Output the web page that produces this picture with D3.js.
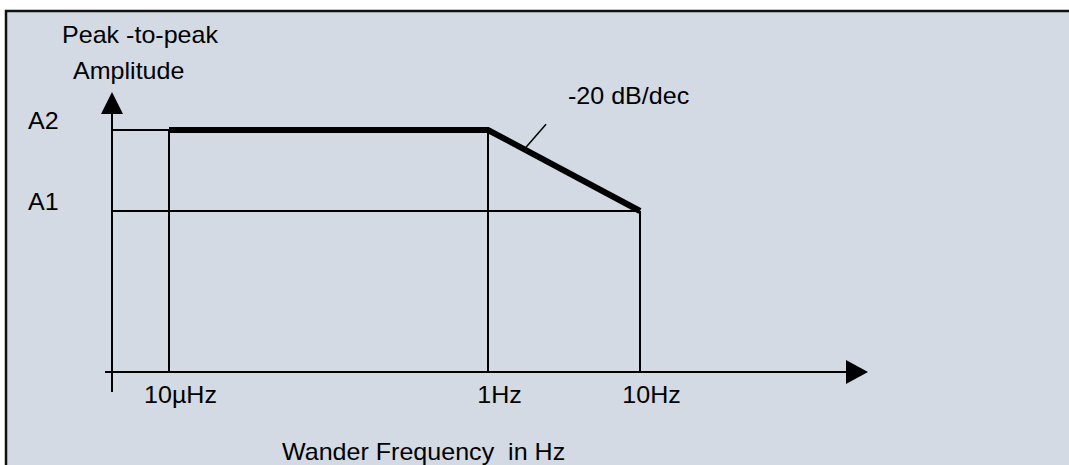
<!DOCTYPE html>
<html>
<head>
<meta charset="utf-8">
<script src="https://cdn.jsdelivr.net/npm/d3@7"></script>
<style>
  body { margin: 0; background: #fff; }
  svg { display: block; font-family: "Liberation Sans", Arial, sans-serif; }
</style>
</head>
<body>
<svg id="chart"></svg>
<script>
// Wander tolerance mask: flat at A2, then -20 dB/dec down to A1
const freqs = [1e-5, 1, 10]
const amps = [10, 10, 1]
const freqLabels = ['10µHz', '1Hz', '10Hz']
const ampLevels = [1, 10]
const ampLabels = ['A1', 'A2']
const slopeLabel = '-20 dB/dec'
const yTitle = ['Peak -to-peak', 'Amplitude']
const xTitle = 'Wander Frequency  in Hz'

;(function() {
  const W = 1069
  const H = 465
  const fontSize = 23
  const stretch = 1.09
  const axisX = 112
  const axisY = 372
  const bg = '#d3dae4'

  const svg = d3.select('#chart')
    .attr('width', W)
    .attr('height', H)

  // frame
  svg.append('rect')
    .attr('x', 6)
    .attr('y', 11)
    .attr('width', 1100)
    .attr('height', 500)
    .attr('fill', bg)
    .attr('stroke', '#111')
    .attr('stroke-width', 2.5)

  // schematic axes: log on both, decades not to scale on x
  const x = d3.scaleLog()
    .domain(freqs)
    .range([169, 488, 640])

  const y = d3.scaleLog()
    .domain(d3.extent(ampLevels))
    .range([211, 130])

  const thin = g => g.attr('stroke', '#000').attr('stroke-width', 2).attr('fill', 'none')

  // axis lines + arrows
  svg.append('line')
    .attr('x1', axisX).attr('y1', 392)
    .attr('x2', axisX).attr('y2', 112)
    .call(thin)
  svg.append('path')
    .attr('d', `M${axisX},92 L${axisX - 11},114 L${axisX + 11},114 Z`)
    .attr('fill', '#000')

  svg.append('line')
    .attr('x1', 105).attr('y1', axisY)
    .attr('x2', 848).attr('y2', axisY)
    .call(thin)
  svg.append('path')
    .attr('d', `M868,${axisY} L846,${axisY - 12} L846,${axisY + 12} Z`)
    .attr('fill', '#000')

  // level lines from the y axis to where the mask reaches them
  ampLevels.forEach(level => {
    const f = freqs[amps.indexOf(level)]
    svg.append('line')
      .attr('x1', axisX).attr('y1', y(level))
      .attr('x2', x(f)).attr('y2', y(level))
      .call(thin)
  })

  // drop lines at each breakpoint
  freqs.forEach((f, i) => {
    svg.append('line')
      .attr('x1', x(f)).attr('y1', axisY)
      .attr('x2', x(f)).attr('y2', y(amps[i]))
      .call(thin)
  })

  // mask curve
  const line = d3.line()
    .x(d => x(d[0]))
    .y(d => y(d[1]))

  svg.append('path')
    .attr('d', line(d3.zip(freqs, amps)))
    .attr('fill', 'none')
    .attr('stroke', '#000')
    .attr('stroke-width', 6)
    .attr('stroke-linejoin', 'miter')

  // tick labels
  const xAxis = svg.append('g')
    .attr('transform', `translate(0, ${axisY})`)
    .call(d3.axisBottom(x)
      .tickValues(freqs)
      .tickFormat((d, i) => freqLabels[i])
      .tickSize(0))
  xAxis.select('.domain').remove()
  xAxis.selectAll('text')
    .attr('y', 0)
    .attr('dy', null)
    .attr('text-anchor', 'middle')
    .attr('transform', `translate(11, 31) scale(${stretch}, 1)`)
  xAxis.attr('font-size', fontSize).attr('font-family', null)
  xAxis.selectAll('text').attr('fill', '#000')

  const yAxis = svg.append('g')
    .attr('transform', `translate(${axisX}, 0)`)
    .call(d3.axisLeft(y)
      .tickValues(ampLevels)
      .tickFormat((d, i) => ampLabels[i])
      .tickSize(0))
  yAxis.select('.domain').remove()
  yAxis.selectAll('text')
    .attr('x', 0)
    .attr('dy', null)
    .attr('text-anchor', 'start')
    .attr('fill', '#000')
    .attr('transform', `translate(-84, -2) scale(${stretch}, 1)`)
  yAxis.attr('font-size', fontSize).attr('font-family', null)

  // slope annotation, a quarter of the way down the sloped segment
  const t = 0.25
  const fa = freqs[1] * Math.pow(freqs[2] / freqs[1], t)
  const aa = amps[1] * Math.pow(amps[2] / amps[1], t)
  const px = x(fa)
  const py = y(aa)

  svg.append('line')
    .attr('x1', px).attr('y1', py - 3)
    .attr('x2', px + 20).attr('y2', py - 26)
    .attr('stroke', '#000')
    .attr('stroke-width', 1.5)

  const addText = (str, tx, ty) => svg.append('text')
    .attr('transform', `translate(${tx}, ${ty}) scale(${stretch}, 1)`)
    .attr('font-size', fontSize)
    .attr('fill', '#000')
    .style('white-space', 'pre')
    .text(str)

  addText(slopeLabel, px + 42, py - 46)

  // titles
  addText(yTitle[0], 62, 43)
  addText(yTitle[1], 73, 79)
  addText(xTitle, 282, 460)
})()
</script>
</body>
</html>
